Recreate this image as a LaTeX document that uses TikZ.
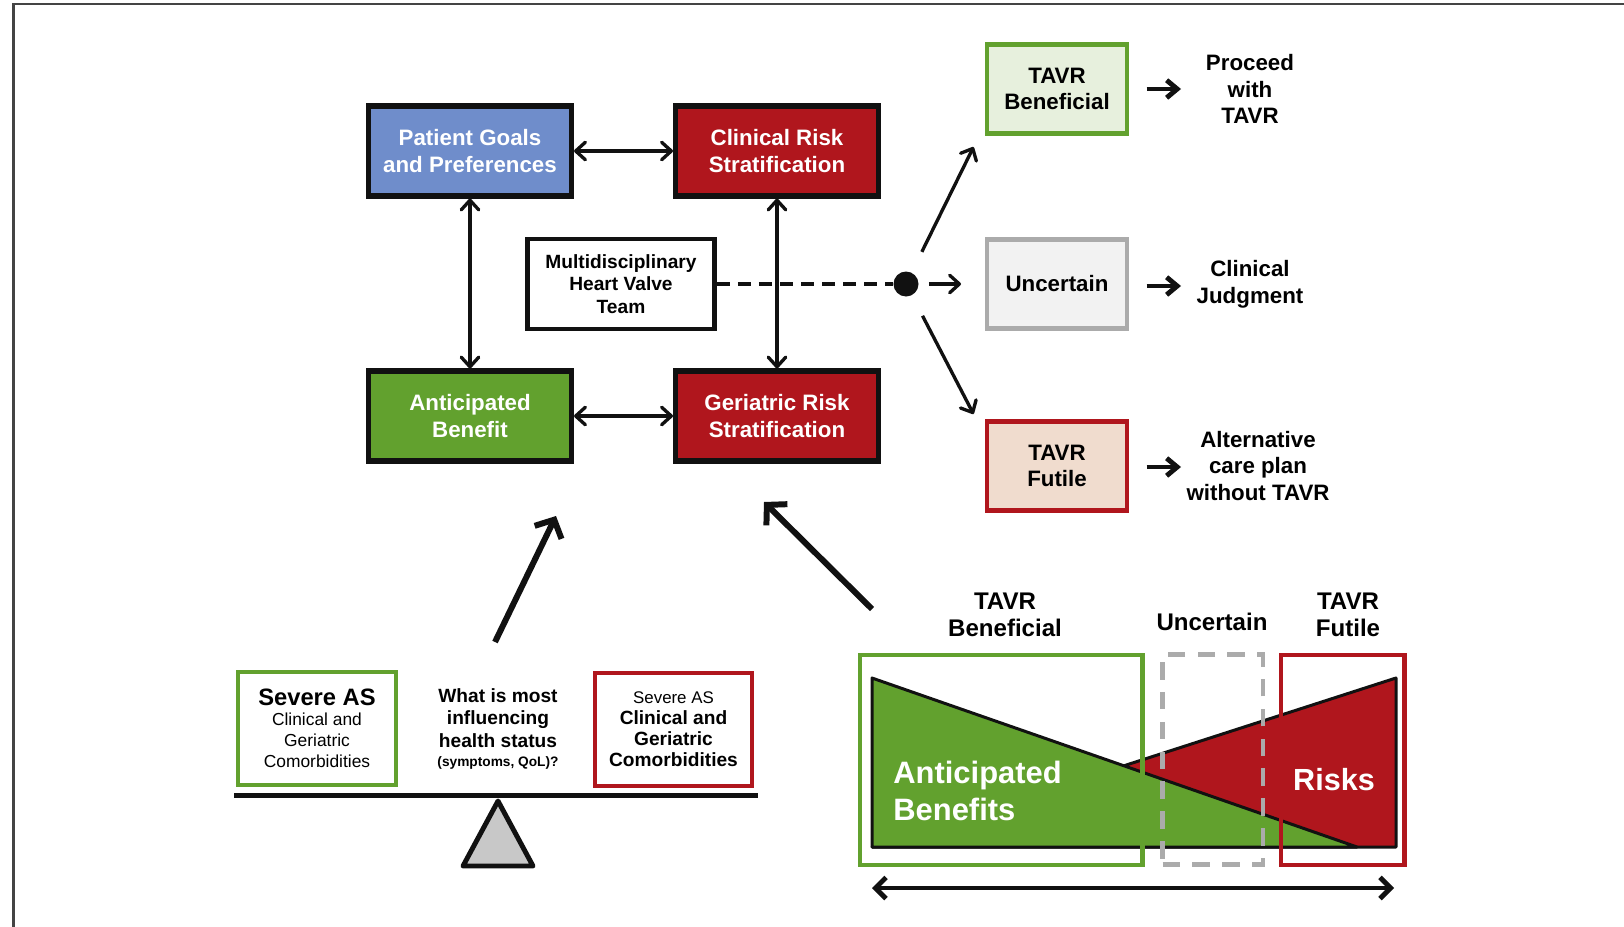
\documentclass[tikz,border=0pt]{standalone}
\usepackage{fontspec}
\setmainfont{Liberation Sans}
\usetikzlibrary{arrows.meta}
\definecolor{cblue}{HTML}{6F8DCB}
\definecolor{cred}{HTML}{B0161D}
\definecolor{cgreen}{HTML}{62A12E}
\definecolor{lgreen}{HTML}{E7F0DD}
\definecolor{lgray}{HTML}{F2F2F2}
\definecolor{mgray}{HTML}{ABABAB}
\definecolor{lred}{HTML}{F0DCCE}
\definecolor{tgray}{HTML}{C8C8C8}
\definecolor{ink}{HTML}{111111}
\definecolor{framec}{HTML}{444444}
\begin{document}
\begin{tikzpicture}[x=0.02cm,y=-0.02cm,
  mainbox/.style={draw=ink, line width=2.9pt, minimum width=4.06cm, minimum height=1.8cm, inner sep=0pt, align=center, text=white, font=\fontsize{12.7}{15.3}\selectfont\bfseries},
  teambox/.style={draw=ink, fill=white, line width=2.6pt, minimum width=3.74cm, minimum height=1.8cm, inner sep=0pt, align=center, font=\fontsize{10.9}{12.7}\selectfont\bfseries},
  outbox/.style={line width=2.5pt, minimum width=2.8cm, minimum height=1.78cm, inner sep=0pt, align=center, font=\fontsize{12.7}{14.7}\selectfont\bfseries},
  outtext/.style={align=center, inner sep=0pt, font=\fontsize{12.7}{15.3}\selectfont\bfseries},
  link/.style={line width=1.9pt, draw=ink},
  dbl/.style={link, {Straight Barb[length=5.5pt,width=10pt,round]}-{Straight Barb[length=5.5pt,width=10pt,round]}},
  fwd/.style={link, -{Straight Barb[length=5.5pt,width=10pt,round]}},
  fwdthick/.style={line width=2.8pt, draw=ink, -{Straight Barb[length=6pt,width=10pt]}},
  bigarrow/.style={line width=3.4pt, draw=ink, -{Straight Barb[length=8pt,width=17pt]}},
  sidebox/.style={line width=2.4pt, fill=white, minimum width=3.16cm, minimum height=2.26cm, inner sep=0pt, align=center},
  barlabel/.style={align=center, inner sep=0pt, font=\fontsize{13.7}{15.3}\selectfont\bfseries},
  zonebox/.style={minimum height=4.2cm, inner sep=0pt}
]
\useasboundingbox (0,0) rectangle (1624,927);
% frame
\draw[framec, line width=1.3pt] (13.5,927) -- (13.5,4) -- (1624,4);

% main 2x2 boxes
\node[mainbox, fill=cblue] (pg) at (470,151) {Patient Goals\\and Preferences};
\node[mainbox, fill=cred] (cr) at (777,151) {Clinical Risk\\Stratification};
\node[mainbox, fill=cgreen] (ab) at (470,416) {Anticipated\\Benefit};
\node[mainbox, fill=cred] (gr) at (777,416) {Geriatric Risk\\Stratification};
\node[teambox] (mdt) at (621,284) {Multidisciplinary\\Heart Valve\\Team};

% decision dot
\node[circle, fill=ink, minimum size=0.5cm, inner sep=0pt] (dot) at (906,284) {};
\draw[link, line width=2.2pt, dash pattern=on 7.4pt off 4.6pt] (mdt) -- (dot);

\draw[dbl] (pg) -- (cr);
\draw[dbl] (ab) -- (gr);
\draw[dbl] (pg) -- (ab);
\draw[dbl] (cr) -- (gr);

% outcome boxes
\node[outbox, draw=cgreen, fill=lgreen] (tb) at (1057,89) {TAVR\\Beneficial};
\node[outbox, draw=mgray, fill=lgray] (ub) at (1057,284) {Uncertain};
\node[outbox, draw=cred, fill=lred] (fb) at (1057,466) {TAVR\\Futile};

\coordinate (d1) at (973.5,147);
\coordinate (d2) at (961,284);
\coordinate (d3) at (973.5,414);
\draw[fwd, shorten <=0.46cm] (dot) -- (d1);
\draw[fwd, shorten <=0.2cm] (dot) -- (d2);
\draw[fwd, shorten <=0.46cm] (dot) -- (d3);

\node[outtext] (o1) at (1250,89) {Proceed\\with\\TAVR};
\node[outtext] (o2) at (1250,284) {Clinical\\Judgment};
\node[outtext] (o3) at (1258,466) {Alternative\\care plan\\without TAVR};

\coordinate (a1) at (1181,89);
\coordinate (a2) at (1181,286);
\coordinate (a3) at (1181,467);
\draw[fwdthick, shorten <=0.35cm] (tb.east) -- (a1);
\draw[fwdthick, shorten <=0.35cm] (ub.east |- a2) -- (a2);
\draw[fwdthick, shorten <=0.35cm] (fb.east |- a3) -- (a3);

% big arrows
\coordinate (b1s) at (495,642);
\coordinate (b1e) at (556,516);
\coordinate (b2s) at (872,609);
\coordinate (b2e) at (764,502);
\draw[bigarrow] (b1s) -- (b1e);
\draw[bigarrow] (b2s) -- (b2e);

% seesaw
\node[sidebox, draw=cgreen] (lbox) at (317,728.5)
  {\fontsize{13.5}{16}\selectfont\bfseries Severe AS\\[-1pt]
   \fontsize{9.9}{11.75}\selectfont Clinical and\\
   \fontsize{9.9}{11.75}\selectfont Geriatric\\
   \fontsize{9.9}{11.75}\selectfont Comorbidities};
\node[sidebox, draw=cred, minimum width=3.14cm, font=\bfseries] (rbox) at (673.5,729.5)
  {\fontsize{9.6}{12.5}\selectfont\mdseries Severe AS\\
   \fontsize{10.9}{12.5}\selectfont Clinical and\\
   \fontsize{10.9}{12.5}\selectfont Geriatric\\
   \fontsize{10.9}{12.5}\selectfont Comorbidities};
\node[align=center, inner sep=0pt, font=\fontsize{10.9}{12.9}\selectfont\bfseries] (q) at (498,729)
  {What is most\\influencing\\health status\\[-2pt]\fontsize{7.8}{10.8}\selectfont (symptoms, QoL)?};
\coordinate (barl) at (234,795.5);
\coordinate (barr) at (758,795.5);
\draw[ink, line width=2.8pt] (barl) -- (barr);
\draw[ink, line width=2.8pt, fill=tgray, line join=round] (498,801) -- (533,866) -- (463,866) -- cycle;

% benefit / risk diagram
\draw[ink, line width=1.7pt, fill=cred, line join=round] (1396,678) -- (1396,847) -- (872,847) -- cycle;
\draw[ink, line width=1.7pt, fill=cgreen, line join=round] (872,678) -- (872,847) -- (1357,847) -- cycle;
\node[anchor=west, align=left, inner sep=0pt, text=white, font=\fontsize{17.6}{20.6}\selectfont\bfseries] (abt) at (893,791) {Anticipated\\Benefits};
\node[inner sep=0pt, text=white, font=\fontsize{17.4}{20}\selectfont\bfseries] (rk) at (1334,780) {Risks};

\node[zonebox, draw=cgreen, line width=2.3pt, minimum width=5.66cm] (zb) at (1001,759.75) {};
\node[zonebox, draw=mgray, line width=2.7pt, dash pattern=on 10pt off 7pt, minimum width=2.01cm] (zu) at (1212.8,759.75) {};
\node[zonebox, draw=cred, line width=2.4pt, minimum width=2.47cm] (zf) at (1342.75,759.75) {};

\node[barlabel] (lb1) at (1005,615) {TAVR\\Beneficial};
\node[barlabel] (lb2) at (1212,622) {Uncertain};
\node[barlabel] (lb3) at (1348,615) {TAVR\\Futile};

\coordinate (sl) at (872,888);
\coordinate (sr) at (1394,888);
\draw[ink, line width=2.8pt, {Straight Barb[length=6pt,width=12pt]}-{Straight Barb[length=6pt,width=12pt]}] (sl) -- (sr);
\end{tikzpicture}
\end{document}
